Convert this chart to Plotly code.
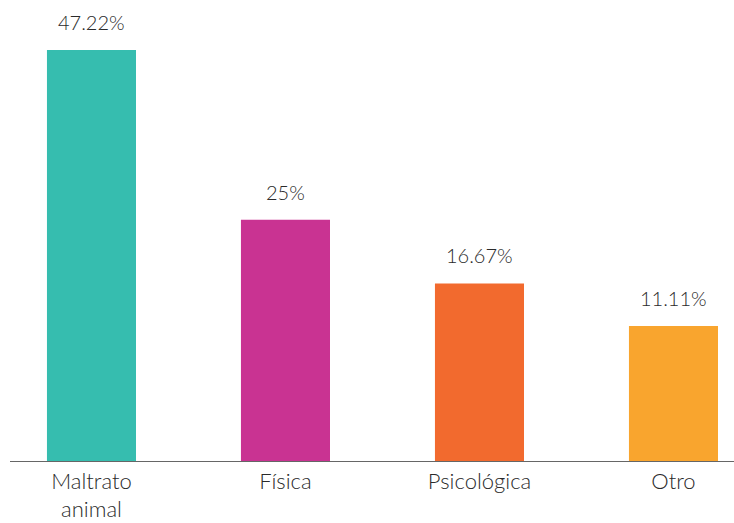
import plotly.graph_objects as go

# Categories and their shares (%)
categories = ["Maltrato<br>animal", "Física", "Psicológica", "Otro"]
values = [47.22, 25, 16.67, 11.11]
labels = ["47.22%", "25%", "16.67%", "11.11%"]
colors = ["#36BDAF", "#C93392", "#F26A2E", "#F9A52E"]

# Value axis starts a little below zero; bars rise from that floor
FLOOR = -6.56
TOP = 53.76

fig = go.Figure()
fig.add_trace(go.Bar(
    x=categories,
    y=[v - FLOOR for v in values],
    base=FLOOR,
    marker=dict(color=colors, line=dict(width=0)),
    width=0.459,
    hoverinfo="skip",
))

for c, v, t in zip(categories, values, labels):
    fig.add_annotation(
        x=c, y=v, text=t, showarrow=False,
        yanchor="bottom", yshift=14,
        font=dict(family="Lato", size=20, color="#2a2a2a", weight=300),
    )

fig.update_layout(
    width=734, height=523,
    margin=dict(l=10, r=0, t=0, b=62),
    paper_bgcolor="white", plot_bgcolor="white",
    showlegend=False,
    xaxis=dict(
        range=[-0.420, 3.312],
        showline=True, linecolor="#666666", linewidth=1.2,
        showgrid=False, ticks="", zeroline=False, automargin=False,
        tickfont=dict(family="Lato", size=22, color="#2a2a2a", weight=300),
        ticklabelstandoff=0,
    ),
    yaxis=dict(
        range=[FLOOR, TOP], visible=False, automargin=False,
        showgrid=False, zeroline=False,
    ),
)

fig.write_html("out.html")
